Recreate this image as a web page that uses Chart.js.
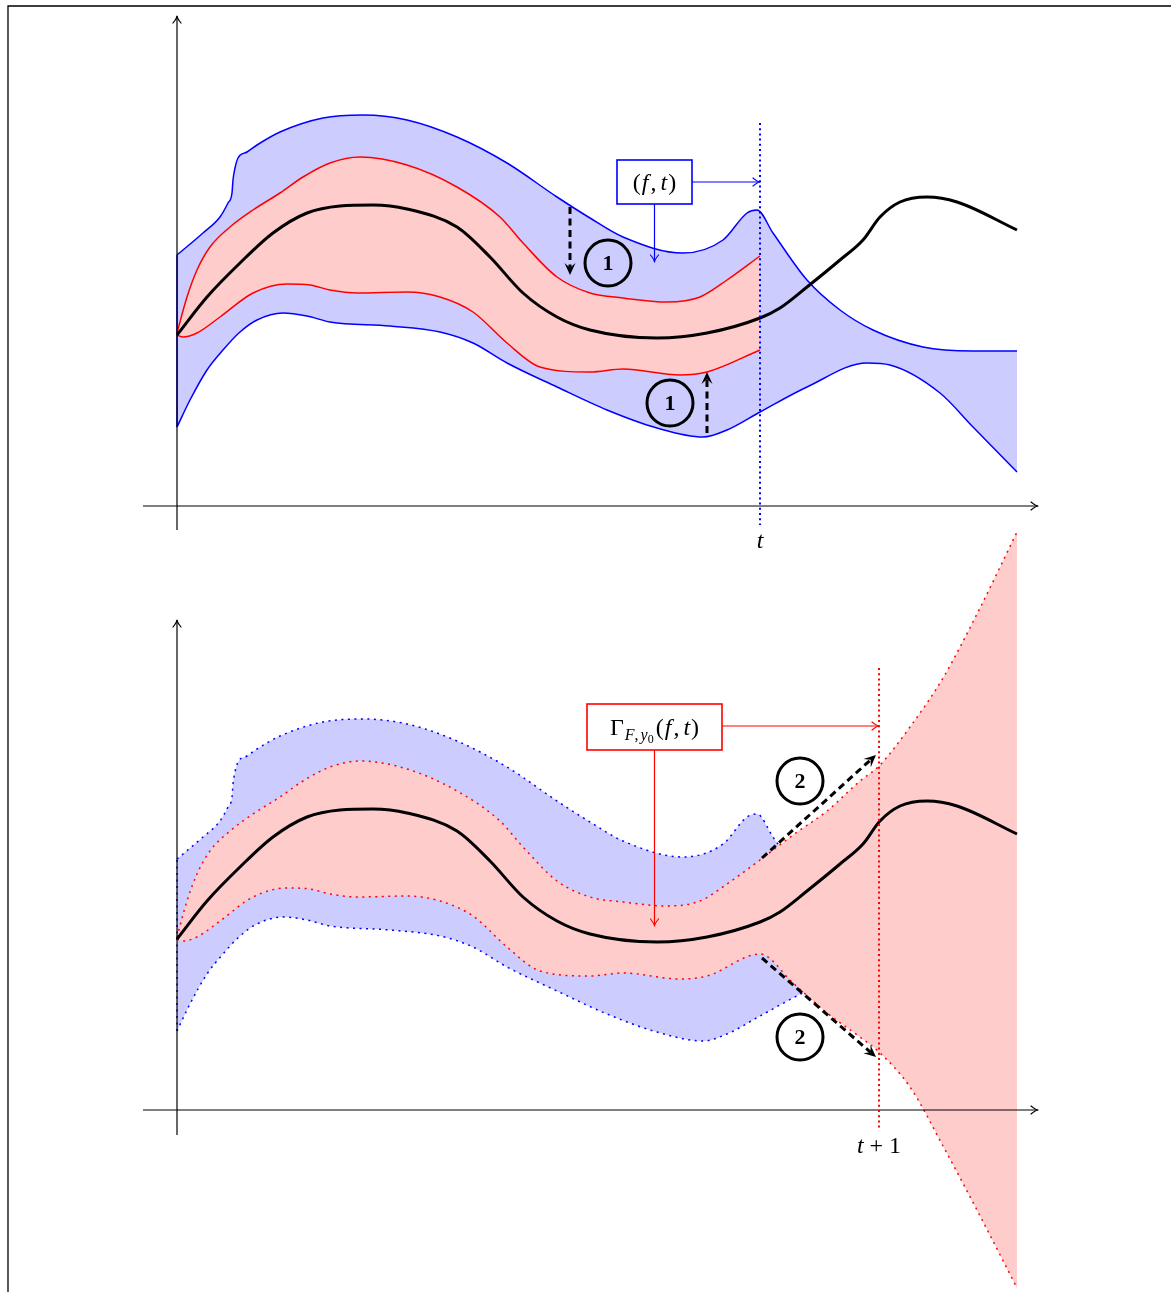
<!DOCTYPE html>
<html><head><meta charset="utf-8">
<script src="https://cdn.jsdelivr.net/npm/chart.js@4.4.1/dist/chart.umd.min.js"></script>
<style>
html,body{margin:0;padding:0;background:#fff;}
#wrap{position:relative;width:1171px;height:1292px;}
</style>
</head><body>
<div id="wrap"><canvas id="c"></canvas></div>
<script>
// ---------- data (x: time, y: value) ----------
const X_MEAN = [0.00,0.30,0.63,0.96,1.30,1.63,1.96,2.30,2.80,3.13,3.46,3.80,4.13,4.80,5.30,5.83,6.03,6.30,6.63,6.86,7.03,7.23,7.50,7.80,8.40];
const Y_MEAN = [1.71,2.09,2.43,2.73,2.93,3.00,3.01,2.97,2.79,2.49,2.13,1.89,1.76,1.68,1.73,1.88,1.98,2.19,2.46,2.66,2.89,3.04,3.09,3.04,2.76];

const X_BLUE_UP = [0.00,0.26,0.43,0.51,0.55,0.56,0.58,0.61,0.70,0.80,1.03,1.46,1.86,2.30,2.80,3.30,3.80,4.13,4.46,5.06,5.46,5.70,5.80,5.96,6.30,6.63,6.96,7.46,7.96,8.40];
const Y_BLUE_UP = [2.51,2.73,2.89,3.03,3.13,3.26,3.38,3.48,3.54,3.61,3.74,3.88,3.91,3.86,3.69,3.43,3.09,2.88,2.69,2.53,2.66,2.93,2.96,2.73,2.26,1.96,1.76,1.59,1.55,1.55];

const X_BLUE_LO = [0.00,0.13,0.30,0.46,0.63,0.80,1.06,1.30,1.53,2.13,2.63,2.96,3.30,3.80,4.30,4.80,5.26,5.50,5.83,6.30,6.90,7.13,7.63,7.96,8.40];
const Y_BLUE_LO = [0.79,1.06,1.36,1.56,1.74,1.86,1.93,1.90,1.84,1.80,1.74,1.63,1.43,1.19,0.96,0.78,0.69,0.76,0.94,1.19,1.43,1.41,1.13,0.79,0.34];

const X_RED_UP = [0.00,0.10,0.20,0.33,0.53,0.76,1.03,1.26,1.53,1.83,2.30,2.80,3.23,3.46,3.80,4.13,4.46,4.90,5.23,5.50,5.83];
const Y_RED_UP = [1.73,2.09,2.36,2.59,2.79,2.96,3.13,3.29,3.43,3.49,3.41,3.19,2.89,2.63,2.29,2.13,2.08,2.04,2.09,2.26,2.50];

const X_RED_LO = [0.00,0.06,0.20,0.43,0.76,1.10,1.33,1.53,1.80,2.30,2.63,2.96,3.30,3.63,4.13,4.46,5.03,5.30,5.83];
const Y_RED_LO = [1.71,1.69,1.73,1.89,2.13,2.22,2.21,2.16,2.13,2.14,2.09,1.94,1.63,1.39,1.34,1.37,1.31,1.34,1.56];

// one-step-ahead widening of the red band (lower panel)
const X_RED_EXT = [6.16,6.50,6.83,7.02,7.33,7.66,8.00,8.40];
const Y_RED_UP_EXT = [2.75,2.99,3.29,3.44,3.83,4.32,4.96,5.78];
const Y_RED_LO_EXT = [1.27,0.97,0.73,0.58,0.23,-0.36,-1.00,-1.78];

const T_NOW = 5.83;
const T_NEXT = 7.02;
const CIRCLE_LABELS = ['1', '2'];

// ---------- helpers ----------
const BLUE = '#0000ff', RED = '#ff0000', BLUE_FILL = '#ccccff', RED_FILL = '#ffcccc';
function pts(xs, ys){ return xs.map((x,i)=>({x:x, y:ys[i]})); }
function base(data, axis, color, width, extra){
  return Object.assign({data:data, yAxisID:axis, borderColor:color, borderWidth:width,
    pointRadius:0, fill:false, cubicInterpolationMode:'monotone', tension:0.4}, extra||{});
}
const DOT = [2,4.5];
const EDGE = {tension:0, cubicInterpolationMode:'default'};

const datasets = [
  // top panel
  base(pts(X_MEAN,Y_MEAN),'yT','#000',3,{order:0}),                                   //0
  base(pts(X_RED_LO,Y_RED_LO),'yT',RED,1.5,{order:1}),                                //1
  base(pts(X_RED_UP,Y_RED_UP),'yT',RED,1.5,{order:2, fill:{target:1, above:RED_FILL, below:RED_FILL}}), //2
  base(pts(X_BLUE_LO,Y_BLUE_LO),'yT',BLUE,1.5,{order:3}),                             //3
  base(pts(X_BLUE_UP,Y_BLUE_UP),'yT',BLUE,1.5,{order:4, fill:{target:3, above:BLUE_FILL, below:BLUE_FILL}}), //4
  base([{x:X_BLUE_LO[0],y:Y_BLUE_LO[0]},{x:X_BLUE_UP[0],y:Y_BLUE_UP[0]}],'yT',BLUE,1.5,Object.assign({order:3},EDGE)), //5
  // bottom panel
  base(pts(X_MEAN,Y_MEAN),'yB','#000',3,{order:0}),                                   //6
  base(pts(X_RED_LO.concat(X_RED_EXT),Y_RED_LO.concat(Y_RED_LO_EXT)),'yB',RED,1.5,{order:1, borderDash:DOT}), //7
  base(pts(X_RED_UP.concat(X_RED_EXT),Y_RED_UP.concat(Y_RED_UP_EXT)),'yB',RED,1.5,{order:2, borderDash:DOT, fill:{target:7, above:RED_FILL, below:RED_FILL}}), //8
  base(pts(X_BLUE_LO,Y_BLUE_LO),'yB',BLUE,1.5,{order:3, borderDash:DOT}),             //9
  base(pts(X_BLUE_UP,Y_BLUE_UP),'yB',BLUE,1.5,{order:4, borderDash:DOT, fill:{target:9, above:BLUE_FILL, below:BLUE_FILL}}), //10
  base([{x:X_BLUE_LO[0],y:Y_BLUE_LO[0]},{x:X_BLUE_UP[0],y:Y_BLUE_UP[0]}],'yB',BLUE,1.5,Object.assign({order:3, borderDash:DOT},EDGE)) //11
];

// ---------- drawing helpers ----------
const SERIF = '"Liberation Serif","DejaVu Serif",serif';
function openHead(ctx, x1,y1,x2,y2, color, lw){
  const a = Math.atan2(y2-y1,x2-x1), L=7, W=4;
  ctx.save(); ctx.strokeStyle=color; ctx.lineWidth=lw; ctx.lineCap='round'; ctx.lineJoin='round'; ctx.setLineDash([]);
  ctx.beginPath();
  ctx.moveTo(x2 - L*Math.cos(a) + W*Math.sin(a), y2 - L*Math.sin(a) - W*Math.cos(a));
  ctx.quadraticCurveTo(x2 - 2*Math.cos(a), y2 - 2*Math.sin(a), x2, y2);
  ctx.quadraticCurveTo(x2 - 2*Math.cos(a), y2 - 2*Math.sin(a), x2 - L*Math.cos(a) - W*Math.sin(a), y2 - L*Math.sin(a) + W*Math.cos(a));
  ctx.stroke(); ctx.restore();
}
function thinArrow(ctx, x1,y1,x2,y2,color,lw){
  ctx.save(); ctx.strokeStyle=color; ctx.lineWidth=lw; ctx.setLineDash([]);
  ctx.beginPath(); ctx.moveTo(x1,y1); ctx.lineTo(x2,y2); ctx.stroke(); ctx.restore();
  openHead(ctx,x1,y1,x2,y2,color,lw);
}
function dashedStealth(ctx, x1,y1,x2,y2){
  const a = Math.atan2(y2-y1,x2-x1), L=12, W=5.5, c=Math.cos(a), s=Math.sin(a);
  ctx.save(); ctx.strokeStyle='#000'; ctx.fillStyle='#000'; ctx.lineWidth=3; ctx.setLineDash([7,4.5]);
  ctx.beginPath(); ctx.moveTo(x1,y1); ctx.lineTo(x2-0.6*L*c, y2-0.6*L*s); ctx.stroke();
  ctx.setLineDash([]);
  ctx.beginPath();
  ctx.moveTo(x2,y2);
  ctx.lineTo(x2-L*c+W*s, y2-L*s-W*c);
  ctx.lineTo(x2-0.6*L*c, y2-0.6*L*s);
  ctx.lineTo(x2-L*c-W*s, y2-L*s+W*c);
  ctx.closePath(); ctx.fill(); ctx.restore();
}
function circled(ctx, cx, cy, label){
  ctx.save(); ctx.strokeStyle='#000'; ctx.lineWidth=3; ctx.setLineDash([]);
  ctx.beginPath(); ctx.arc(cx,cy,23,0,Math.PI*2); ctx.stroke();
  ctx.fillStyle='#000'; ctx.font='bold 22px '+SERIF; ctx.textAlign='center'; ctx.textBaseline='middle';
  ctx.fillText(label, cx, cy+1); ctx.restore();
}
function runs(ctx, parts, cx, cy){
  // parts: [text, font, dy, kernAfter]
  ctx.save(); ctx.fillStyle='#000'; ctx.textBaseline='alphabetic'; ctx.textAlign='left';
  let w=0; parts.forEach(p=>{ctx.font=p[1]; w+=ctx.measureText(p[0]).width+(p[3]||0);});
  let x=cx-w/2;
  parts.forEach(p=>{ctx.font=p[1]; ctx.fillText(p[0], x, cy+(p[2]||0)); x+=ctx.measureText(p[0]).width+(p[3]||0);});
  ctx.restore();
}
function vDotted(ctx, x, y1, y2, color){
  ctx.save(); ctx.strokeStyle=color; ctx.lineWidth=2; ctx.setLineDash([2,3.2]);
  ctx.beginPath(); ctx.moveTo(x,y1); ctx.lineTo(x,y2); ctx.stroke(); ctx.restore();
}
function axes(ctx, sx, sy, x0, x1, y0, y1){
  const ox = sx.getPixelForValue(0), oy = sy.getPixelForValue(0);
  ctx.save(); ctx.strokeStyle='#000'; ctx.lineWidth=1.2; ctx.setLineDash([]);
  ctx.beginPath(); ctx.moveTo(sx.getPixelForValue(x0), oy); ctx.lineTo(sx.getPixelForValue(x1), oy); ctx.stroke();
  ctx.beginPath(); ctx.moveTo(ox, sy.getPixelForValue(y0)); ctx.lineTo(ox, sy.getPixelForValue(y1)); ctx.stroke();
  ctx.restore();
  openHead(ctx, sx.getPixelForValue(x0), oy, sx.getPixelForValue(x1), oy, '#000', 1.2);
  openHead(ctx, ox, sy.getPixelForValue(y0), ox, sy.getPixelForValue(y1), '#000', 1.2);
}

const R24 = '24px '+SERIF, I24 = 'italic 24px '+SERIF, I16 = 'italic 16px '+SERIF, R16='16px '+SERIF, R12='12px '+SERIF;

const decor = {
  id:'decor',
  beforeDatasetsDraw(chart){
    const ctx = chart.ctx;
    ctx.save(); ctx.strokeStyle='#000'; ctx.lineWidth=1.3;
    ctx.beginPath(); ctx.moveTo(8,1292); ctx.lineTo(8,6); ctx.lineTo(1171,6); ctx.stroke(); ctx.restore();
  },
  afterDatasetsDraw(chart){
    const ctx = chart.ctx, sx = chart.scales.x, yT = chart.scales.yT, yB = chart.scales.yB;
    const X = v=>sx.getPixelForValue(v);
    // axes
    axes(ctx, sx, yT, -0.34, 8.61, -0.24, 4.90);
    axes(ctx, sx, yB, -0.34, 8.61, -0.25, 4.90);

    // ---- top panel ----
    vDotted(ctx, X(T_NOW), yT.getPixelForValue(3.83), yT.getPixelForValue(-0.19), BLUE);
    runs(ctx, [['t', I24]], X(T_NOW), yT.getPixelForValue(-0.34)+8);
    const bx = X(4.775), by = yT.getPixelForValue(3.24);
    ctx.save(); ctx.fillStyle='#fff'; ctx.strokeStyle=BLUE; ctx.lineWidth=1.6;
    ctx.fillRect(bx-37.5, by-22, 75, 44); ctx.strokeRect(bx-37.5, by-22, 75, 44); ctx.restore();
    runs(ctx, [['(',R24,0,1],['f',I24,0,2],[',',R24,0,4],['t',I24,0,1],[')',R24]], bx, by+8);
    thinArrow(ctx, bx+37.5, by, X(T_NOW), by, BLUE, 1.2);
    thinArrow(ctx, bx, by+22, bx, yT.getPixelForValue(2.44), BLUE, 1.2);
    dashedStealth(ctx, X(3.93), yT.getPixelForValue(2.99), X(3.93), yT.getPixelForValue(2.31));
    circled(ctx, X(4.31), yT.getPixelForValue(2.43), CIRCLE_LABELS[0]);
    dashedStealth(ctx, X(5.30), yT.getPixelForValue(0.73), X(5.30), yT.getPixelForValue(1.34));
    circled(ctx, X(4.93), yT.getPixelForValue(1.03), CIRCLE_LABELS[0]);

    // ---- bottom panel ----
    vDotted(ctx, X(T_NEXT), yB.getPixelForValue(4.42), yB.getPixelForValue(-0.20), RED);
    runs(ctx, [['t',I24,0,6],['+',R24,0,6],['1',R24]], X(T_NEXT), yB.getPixelForValue(-0.35)+8);
    const gx = X(4.775), gy = yB.getPixelForValue(3.83);
    ctx.save(); ctx.fillStyle='#fff'; ctx.strokeStyle=RED; ctx.lineWidth=1.6;
    ctx.fillRect(gx-67.5, gy-23, 135, 46); ctx.strokeRect(gx-67.5, gy-23, 135, 46); ctx.restore();
    runs(ctx, [['\u0393',R24,0,1],['F',I16,5],[',',R16,5,2],['y',I16,5],['0',R12,8,2],['(',R24,0,1],['f',I24,0,2],[',',R24,0,4],['t',I24,0,1],[')',R24]], gx, gy+8);
    thinArrow(ctx, gx+67.5, gy-1, X(T_NEXT), gy-1, RED, 1.2);
    thinArrow(ctx, gx, gy+23, gx, yB.getPixelForValue(1.84), RED, 1.2);
    dashedStealth(ctx, X(5.85), yB.getPixelForValue(2.52), X(6.99), yB.getPixelForValue(3.55));
    circled(ctx, X(6.23), yB.getPixelForValue(3.29), CIRCLE_LABELS[1]);
    dashedStealth(ctx, X(5.85), yB.getPixelForValue(1.52), X(6.99), yB.getPixelForValue(0.53));
    circled(ctx, X(6.23), yB.getPixelForValue(0.73), CIRCLE_LABELS[1]);
  }
};

new Chart(document.getElementById('c'), {
  type:'line',
  data:{datasets:datasets},
  options:{
    responsive:true, maintainAspectRatio:false, animation:false, events:[],
    layout:{padding:0, autoPadding:false},
    plugins:{legend:{display:false}, tooltip:{enabled:false}, filler:{propagate:false}},
    scales:{
      x:{type:'linear', min:-1.77, max:9.94, display:false, bounds:'data'},
      yT:{type:'linear', min:-7.86, max:5.06, display:false, bounds:'data'},
      yB:{type:'linear', min:-1.82, max:11.10, display:false, bounds:'data'}
    }
  },
  plugins:[decor]
});
</script>
</body></html>
